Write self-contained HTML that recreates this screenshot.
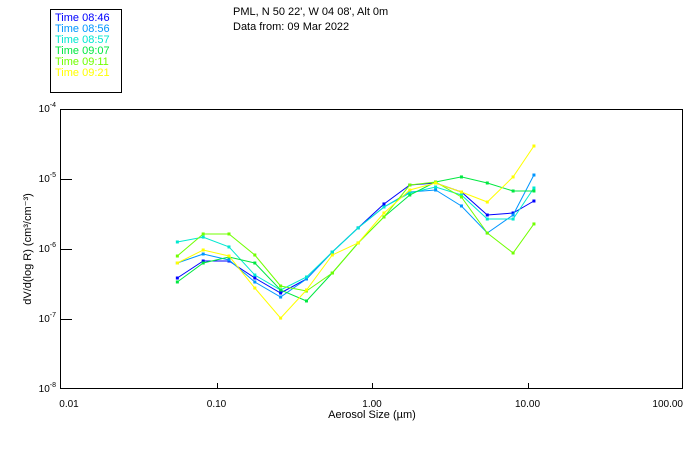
<!DOCTYPE html>
<html><head><meta charset="utf-8"><style>
body{margin:0;background:#fff}
svg{display:block;font-family:"Liberation Sans",sans-serif}
</style></head><body>
<svg id="chart" width="700" height="450">
<rect x="0" y="0" width="700" height="450" fill="#fff"/>
<g>
<rect x="50.5" y="9.5" width="71" height="83" fill="none" stroke="#000"/>
<g id="legend-items" font-size="11"></g>
</g>
<text x="233" y="15" font-size="11">PML, N 50 22', W 04 08', Alt 0m</text>
<text x="233" y="30" font-size="11">Data from: 09 Mar 2022</text>
<rect x="60.5" y="109.5" width="622" height="279" fill="none" stroke="#000"/>
<g id="axes" font-size="10"></g>
<text transform="translate(31,249) rotate(-90)" text-anchor="middle" font-size="11">dV/d(log R) (cm³/cm⁻³)</text>
<text x="372" y="418" text-anchor="middle" font-size="11">Aerosol Size (µm)</text>
<g id="series"></g>
</svg>
<script>
const sizes=[0.056,0.0821,0.1203,0.1764,0.2585,0.379,0.5555,0.8143,1.194,1.750,2.565,3.760,5.512,8.080,11.0];
const labels=["Time 08:46","Time 08:56","Time 08:57","Time 09:07","Time 09:11","Time 09:21"];
const colors=["#0000ff","#0096ff","#00e8d0","#00e840","#70ff00","#ffff00"];
const s0846=[3.85e-7,6.74e-7,6.74e-7,3.85e-7,2.35e-7,3.73e-7,9.06e-7,2.00e-6,4.40e-6,8.21e-6,8.77e-6,6.52e-6,3.06e-6,3.27e-6,4.85e-6];
const s0856=[6.31e-7,8.48e-7,6.96e-7,3.38e-7,2.06e-7,3.73e-7,9.06e-7,2.00e-6,3.98e-6,6.52e-6,6.96e-6,4.12e-6,1.69e-6,3.06e-6,1.14e-5];
const s0857=[1.26e-6,1.48e-6,1.07e-6,4.25e-7,2.60e-7,3.98e-7,9.06e-7,2.00e-6,3.98e-6,6.31e-6,7.69e-6,5.91e-6,2.68e-6,2.68e-6,7.44e-6];
const s0907=[3.38e-7,6.31e-7,7.69e-7,6.31e-7,2.60e-7,1.81e-7,4.54e-7,1.22e-6,2.87e-6,5.91e-6,9.06e-6,1.07e-5,8.77e-6,6.74e-6,6.74e-6];
const s0911=[7.94e-7,1.64e-6,1.64e-6,8.21e-7,2.96e-7,2.51e-7,4.54e-7,1.22e-6,2.87e-6,8.21e-6,9.06e-6,5.53e-6,1.69e-6,8.77e-7,2.28e-6];
const s0921=[6.31e-7,9.68e-7,7.94e-7,2.77e-7,1.03e-7,2.60e-7,8.21e-7,1.22e-6,3.27e-6,6.96e-6,8.77e-6,6.52e-6,4.69e-6,1.07e-5,2.96e-5];
const series=[s0846,s0856,s0857,s0907,s0911,s0921];
const xTicks=[0.01,0.1,1,10,100];
const xTickLabels=["0.01","0.10","1.00","10.00","100.00"];
const yTicks=[1e-4,1e-5,1e-6,1e-7,1e-8];
const yTickExp=["-4","-5","-6","-7","-8"];
const NS="http://www.w3.org/2000/svg";
const X=v=>61+(Math.log10(v)+2)*155.5;
const Y=v=>109+(-4-Math.log10(v))*70;
function mk(tag,attrs,parent){const e=document.createElementNS(NS,tag);for(const k in attrs)e.setAttribute(k,attrs[k]);parent.appendChild(e);return e;}
const axes=document.getElementById('axes');
xTicks.forEach((t,i)=>{
  const x=Math.round(X(t))+0.5;
  if(i>0&&i<xTicks.length-1){const l=mk('line',{x1:x,x2:x,y1:383,y2:389,stroke:'#000'},axes);
  
  }
  const tx=mk('text',{x:i==0?69:(i==xTicks.length-1?683:X(t)),y:407,'text-anchor':i==xTicks.length-1?'end':'middle'},axes);
  tx.textContent=xTickLabels[i];
  
  
});
yTicks.forEach((t,i)=>{
  const y=Math.round(Y(t))+0.5;
  if(i>0&&i<yTicks.length-1){const l=mk('line',{x1:61,x2:72,y1:y,y2:y,stroke:'#000'},axes);
  
  }
  const tx=mk('text',{x:56,y:Y(t)+3,'text-anchor':'end'},axes);
  tx.innerHTML='10<tspan dy="-5" font-size="7">'+yTickExp[i]+'</tspan>';
  
  
});
const sg=document.getElementById('series');
const lg=document.getElementById('legend-items');
series.forEach((s,k)=>{
  const g=mk('g',{},sg);
  
  
  const pts=s.map((v,i)=>X(sizes[i]).toFixed(1)+','+Y(v).toFixed(1)).join(' ');
  const pl=mk('polyline',{points:pts,fill:'none',stroke:colors[k],'stroke-width':1},g);
  
  
  s.forEach((v,i)=>{
    const r=mk('rect',{x:X(sizes[i])-1.5,y:Y(v)-1.5,width:3,height:3,fill:colors[k]},g);
    
    
  });
  const t=mk('text',{x:55,y:21+k*11,fill:colors[k]},lg);
  t.textContent=labels[k];
  
  
});
</script>
</body></html>
